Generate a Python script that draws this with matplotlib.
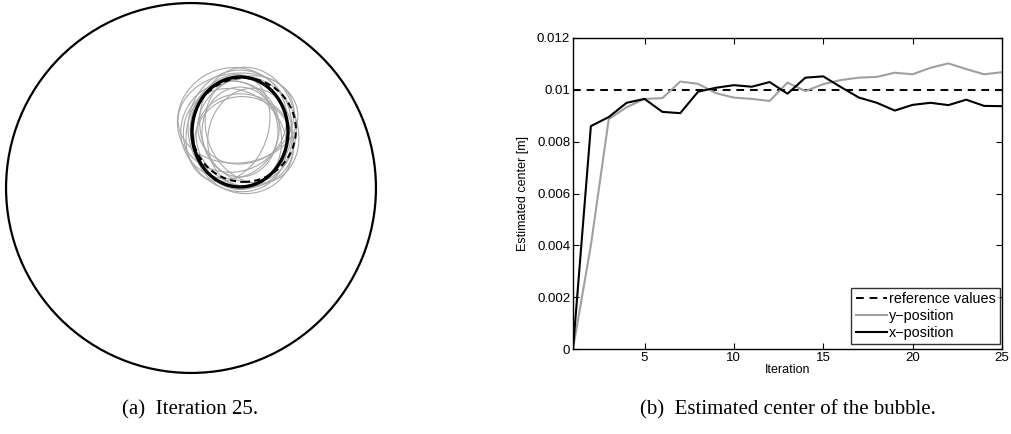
import numpy as np
import matplotlib
matplotlib.use('Agg')
import matplotlib.pyplot as plt
from matplotlib.patches import Ellipse, Circle

# Right panel: estimated bubble center per iteration
iterations = list(range(1, 26))
x_position = [0.0, 8.6e-3, 8.95e-3, 9.5e-3, 9.65e-3, 9.15e-3, 9.1e-3, 9.93e-3, 10.08e-3, 10.18e-3,
              10.12e-3, 10.3e-3, 9.85e-3, 10.47e-3, 10.52e-3, 10.1e-3, 9.7e-3, 9.5e-3, 9.2e-3, 9.42e-3,
              9.5e-3, 9.41e-3, 9.62e-3, 9.38e-3, 9.37e-3]
y_position = [0.0, 4.0e-3, 8.87e-3, 9.33e-3, 9.65e-3, 9.68e-3, 10.32e-3, 10.23e-3, 9.87e-3, 9.7e-3,
              9.65e-3, 9.57e-3, 10.28e-3, 9.95e-3, 10.22e-3, 10.38e-3, 10.47e-3, 10.5e-3, 10.66e-3, 10.6e-3,
              10.85e-3, 11.02e-3, 10.8e-3, 10.6e-3, 10.68e-3]
reference_value = 0.01

# Left panel: domain is the unit circle; bubble shapes in the same units
bubble_final = (0.265, 0.303, 0.519, 0.595)         # cx, cy, width, height (iteration 25)
bubble_ref = (0.286, 0.314, 0.281)                  # cx, cy, radius (true bubble)
gray_cx = [0.222, 0.265, 0.292, 0.243, 0.308, 0.211, 0.319, 0.254, 0.286, 0.200, 0.330, 0.265, 0.238, 0.297]
gray_cy = [0.368, 0.324, 0.259, 0.286, 0.341, 0.314, 0.270, 0.378, 0.232, 0.324, 0.314, 0.303, 0.259, 0.368]
gray_w = [0.595, 0.562, 0.541, 0.486, 0.519, 0.541, 0.454, 0.649, 0.519, 0.432, 0.486, 0.411, 0.595, 0.541]
gray_h = [0.562, 0.627, 0.486, 0.595, 0.627, 0.519, 0.541, 0.486, 0.541, 0.595, 0.595, 0.486, 0.519, 0.454]
gray_angle = [20, 0, -30, 15, 10, 40, -10, 5, 60, -20, 25, 0, -45, 30]

fig = plt.figure(figsize=(10.11, 4.34), dpi=100)

# (a) bubble reconstruction
ax1 = fig.add_axes([0.5 / 1011, 55.5 / 434, 381 / 1011, 381 / 434])
for cx, cy, w, h, a in zip(gray_cx, gray_cy, gray_w, gray_h, gray_angle):
    ax1.add_patch(Ellipse((cx, cy), w, h, angle=a, fill=False, ec='#a8a8a8', lw=0.8))
ax1.add_patch(Circle(bubble_ref[:2], bubble_ref[2], fill=False, ec='black', lw=1.5, ls=(0, (3, 2))))
ax1.add_patch(Ellipse(bubble_final[:2], bubble_final[2], bubble_final[3], fill=False, ec='black', lw=2.4))
ax1.add_patch(Circle((0, 0), 1.0, fill=False, ec='black', lw=1.6))
ax1.set_xlim(-1.03, 1.03)
ax1.set_ylim(-1.03, 1.03)
ax1.set_aspect('equal')
ax1.axis('off')

# (b) estimated center
ax2 = fig.add_axes([573 / 1011, 85 / 434, 429 / 1011, 311 / 434])
ax2.plot([1, 25], [reference_value, reference_value], 'k--', lw=1.4, dashes=(4, 3), label='reference values')
ax2.plot(iterations, y_position, color='#a0a0a0', lw=1.5, label='y\u2212position')
ax2.plot(iterations, x_position, color='black', lw=1.5, label='x\u2212position')
ax2.set_xlim(1, 25)
ax2.set_ylim(0, 0.012)
ax2.set_xticks([5, 10, 15, 20, 25])
ax2.set_yticks([0, 0.002, 0.004, 0.006, 0.008, 0.01, 0.012])
ax2.set_yticklabels(['0', '0.002', '0.004', '0.006', '0.008', '0.01', '0.012'])
ax2.tick_params(direction='in', top=True, right=True, labelsize=9.5, length=4, pad=2)
for lab in ax2.get_xticklabels() + ax2.get_yticklabels():
    lab.set_family('Liberation Sans')
for s in ax2.spines.values():
    s.set_linewidth(1.0)
ax2.set_xlabel('Iteration', fontsize=9, family='Liberation Sans', labelpad=0)
ax2.set_ylabel('Estimated center [m]', fontsize=9, family='Liberation Sans', labelpad=6)
leg = ax2.legend(loc='lower right', bbox_to_anchor=(1 - 2 / 429, 5 / 311), borderaxespad=0,
                 frameon=True, fancybox=False, handlelength=2.2, handletextpad=0.1,
                 labelspacing=0.18, borderpad=0.3,
                 prop={'family': 'Liberation Sans', 'size': 10.4})
leg.get_frame().set_edgecolor('black')
leg.get_frame().set_linewidth(1.0)

fig.text(190 / 1011, 1 - 410 / 434, '(a)  Iteration 25.', ha='center', va='center',
         fontsize=15, family='Liberation Serif')
fig.text(788 / 1011, 1 - 410 / 434, '(b)  Estimated center of the bubble.', ha='center', va='center',
         fontsize=15, family='Liberation Serif')

fig.savefig('out.png', dpi=100)
